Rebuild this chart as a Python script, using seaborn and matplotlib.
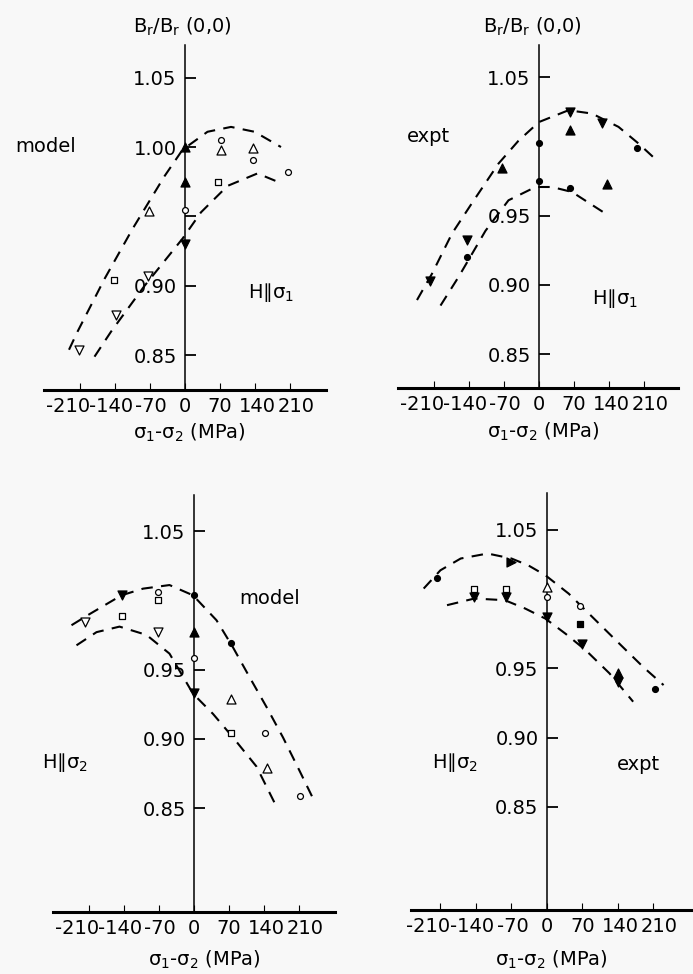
import numpy as np
import pandas as pd
import matplotlib
matplotlib.use("Agg")
import matplotlib.pyplot as plt
import matplotlib.transforms as mtransforms
import seaborn as sns

sns.set_style("ticks")
plt.rcParams['font.family'] = ['DejaVu Sans']
plt.rcParams['mathtext.default'] = 'regular'
for key in ['text.color', 'axes.labelcolor', 'xtick.color', 'ytick.color', 'axes.edgecolor']:
    plt.rcParams[key] = 'black'

# ---------------- axis ticks ----------------
x_ticks = [-210, -140, -70, 0, 70, 140, 210]
x_tick_labels = ["-210", "-140", "-70", "0", "70", "140", "210"]
y_ticks_full = [0.85, 0.90, 0.95, 1.00, 1.05]
y_labels_p1 = ["0.85", "0.90", "", "1.00", "1.05"]
y_ticks_other = [0.85, 0.90, 0.95, 1.05]
y_labels_other = ["0.85", "0.90", "0.95", "1.05"]

# ---------------- panel 1: model, H || sigma1 ----------------
p1_up_x = [-232, -215, -161, -105, -41, -5, 45, 92, 139, 192]
p1_up_y = [0.854, 0.867, 0.905, 0.941, 0.979, 0.998, 1.011, 1.0145, 1.011, 1.000]
p1_lo_x = [-181, -148, -81, -5, 32, 85, 145, 192]
p1_lo_y = [0.849, 0.867, 0.900, 0.934, 0.953, 0.972, 0.981, 0.974]
p1_pt_x = [-212, -138, -74, -142, 66, -72, 72, 136, 72, 136, 206, 0, 0, 0, 0]
p1_pt_y = [0.854, 0.879, 0.907, 0.904, 0.975, 0.954, 0.998, 0.999, 1.005, 0.991, 0.982,
           0.955, 0.975, 1.000, 0.930]
p1_pt_kind = ['v_open', 'v_open', 'v_open', 's_open', 's_open', '^_open', '^_open', '^_open',
              'o_open', 'o_open', 'o_open', 'o_open', '^_fill', '^_fill', 'v_fill']

# ---------------- panel 2: expt, H || sigma1 ----------------
p2_up_x = [-244, -214, -174, -134, -81, -41, 0, 59, 106, 159, 199, 229]
p2_up_y = [0.889, 0.908, 0.937, 0.959, 0.9875, 1.004, 1.0175, 1.026, 1.0236, 1.014, 1.002, 0.992]
p2_lo_x = [-197, -161, -107, -61, -7, 26, 66, 133]
p2_lo_y = [0.885, 0.9056, 0.939, 0.961, 0.9706, 0.9706, 0.967, 0.9514]
p2_pt_x = [-218, -144, -144, -74, 0, 0, 62, 62, 62, 126, 136, 196]
p2_pt_y = [0.903, 0.932, 0.920, 0.984, 1.002, 0.975, 1.0245, 1.0115, 0.970, 1.0166, 0.973, 0.999]
p2_pt_kind = ['v_fill', 'v_fill', 'o_fill', '^_fill', 'o_fill', 'o_fill', 'v_fill', '^_fill',
              'o_fill', 'v_fill', '^_fill', 'o_fill']

# ---------------- panel 3: model, H || sigma2 ----------------
p3_up_x = [-245, -209, -145, -102, -49, -2, 45, 78, 111, 145, 178, 211, 238]
p3_up_y = [0.982, 0.990, 1.0036, 1.0084, 1.011, 1.0036, 0.9856, 0.966, 0.9446, 0.923, 0.901,
           0.877, 0.857]
p3_lo_x = [-235, -195, -149, -95, -49, -2, 38, 78, 125, 165]
p3_lo_y = [0.9675, 0.977, 0.981, 0.975, 0.9615, 0.9326, 0.918, 0.901, 0.880, 0.851]
p3_pt_x = [-219, -145, -145, -73, -73, -73, 0, 0, 0, 0, 73, 73, 73, 141, 145, 211]
p3_pt_y = [0.984, 0.989, 1.0036, 1.006, 1.000, 0.977, 1.0036, 0.977, 0.958, 0.933, 0.969,
           0.929, 0.904, 0.904, 0.879, 0.859]
p3_pt_kind = ['v_open', 's_open', 'v_fill', 'o_open', 's_open', 'v_open', 'o_fill', '^_fill',
              'o_open', 'v_fill', 'o_fill', '^_open', 's_open', 'o_open', '^_open', 'o_open']

# ---------------- panel 4: expt, H || sigma2 ----------------
p4_up_x = [-243, -210, -170, -117, -70, -37, -3, 43, 90, 137, 190, 230]
p4_up_y = [1.0077, 1.0209, 1.0294, 1.033, 1.0294, 1.0245, 1.0173, 1.004, 0.987, 0.970, 0.951, 0.938]
p4_lo_x = [-197, -143, -83, -43, -3, 37, 77, 123, 170]
p4_lo_y = [0.9957, 1.0005, 0.9993, 0.9933, 0.986, 0.975, 0.963, 0.9466, 0.926]
p4_pt_x = [-217, -143, -143, -80, -80, -70, 0, 0, 0, 66, 66, 69, 140, 140, 213]
p4_pt_y = [1.015, 1.0077, 1.0015, 1.0077, 1.0015, 1.0267, 1.0087, 1.0014, 0.987, 0.995, 0.982,
           0.968, 0.947, 0.940, 0.935]
p4_pt_kind = ['o_fill', 's_open', 'v_fill', 's_open', 'v_fill', '>_fill', '^_open', 'o_open',
              'v_fill', 'o_open', 's_fill', 'v_fill', '^_fill', 'v_fill', 'o_fill']

# ---------------- styling ----------------
KIND_STYLE = {
    'v_open': ('v', 'white', 42), 'v_fill': ('v', 'black', 42),
    '^_open': ('^', 'white', 42), '^_fill': ('^', 'black', 42),
    's_open': ('s', 'white', 22), 's_fill': ('s', 'black', 22),
    'o_open': ('o', 'white', 18), 'o_fill': ('o', 'black', 18),
    '>_fill': ('>', 'black', 42),
}
BG = '#f8f8f8'
W, H = 693, 974

fig = plt.figure(figsize=(W / 100, H / 100), dpi=100, facecolor=BG)


def px_axes(left, top, right, bottom):
    return fig.add_axes([left / W, 1 - bottom / H, (right - left) / W, (bottom - top) / H])


def draw_panel(ax, up_x, up_y, lo_x, lo_y, pt_x, pt_y, pt_kind, xlim, ylim, yticks, ylabels):
    for cx, cy in ((up_x, up_y), (lo_x, lo_y)):
        dfc = pd.DataFrame({'x': cx, 'y': cy})
        sns.lineplot(data=dfc, x='x', y='y', sort=False, estimator=None, color='black',
                     linewidth=1.5, linestyle=(0, (5.5, 4)), ax=ax)
    dfp = pd.DataFrame({'x': pt_x, 'y': pt_y, 'kind': pt_kind})
    for kind, grp in dfp.groupby('kind'):
        m, fc, s = KIND_STYLE[kind]
        sns.scatterplot(data=grp, x='x', y='y', marker=m, s=s, color=fc, edgecolor='black',
                        linewidth=0.9, ax=ax, zorder=3, legend=False)
    ax.set_xlim(xlim)
    ax.set_ylim(ylim)
    ax.set_facecolor('none')
    for s in ['top', 'right']:
        ax.spines[s].set_visible(False)
    ax.spines['left'].set_position(('data', 0))
    ax.spines['left'].set_linewidth(1.1)
    ax.spines['bottom'].set_linewidth(2.2)
    ax.set_xticks(x_ticks)
    ax.set_xticklabels(x_tick_labels)
    ax.set_yticks(yticks)
    ax.set_yticklabels(ylabels)
    ax.tick_params(axis='y', direction='in', length=8, width=1.3, pad=6, labelsize=14)
    ax.tick_params(axis='x', direction='in', length=5, width=0.8, pad=5, labelsize=14)
    ax.set_xlabel('')
    ax.set_ylabel('')
    offsets = [-12, -4, 1, 0, 0, 2, 6]
    for lab, dx in zip(ax.get_xticklabels(), offsets):
        lab.set_transform(lab.get_transform() +
                          mtransforms.ScaledTranslation(dx / 100, 0, fig.dpi_scale_trans))


ax1 = px_axes(44, 45, 326, 390)
draw_panel(ax1, p1_up_x, p1_up_y, p1_lo_x, p1_lo_y, p1_pt_x, p1_pt_y, p1_pt_kind,
           (-282, 282), (0.825, 1.0735), y_ticks_full, y_labels_p1)
ax2 = px_axes(398, 45, 678, 388)
draw_panel(ax2, p2_up_x, p2_up_y, p2_lo_x, p2_lo_y, p2_pt_x, p2_pt_y, p2_pt_kind,
           (-282, 278), (0.8255, 1.0731), y_ticks_other, y_labels_other)
ax3 = px_axes(53, 495, 335, 912)
draw_panel(ax3, p3_up_x, p3_up_y, p3_lo_x, p3_lo_y, p3_pt_x, p3_pt_y, p3_pt_kind,
           (-282, 282), (0.775, 1.076), y_ticks_other, y_labels_other)
ax4 = px_axes(411, 493, 693, 910)
draw_panel(ax4, p4_up_x, p4_up_y, p4_lo_x, p4_lo_y, p4_pt_x, p4_pt_y, p4_pt_kind,
           (-268, 288), (0.7756, 1.0767), y_ticks_other, y_labels_other)


def ftext(x, y, s, size=14):
    fig.text(x / W, 1 - y / H, s, ha='center', va='center', fontsize=size, color='black')


ylab = "B$_r$/B$_r$ (0,0)"
xlab = "\u03c3$_1$-\u03c3$_2$ (MPa)"
ftext(182, 27, ylab)
ftext(532, 27, ylab)
ftext(46, 147, "model")
ftext(271, 293, "H\u2225\u03c3$_1$")
ftext(428, 137, "expt")
ftext(615, 298, "H\u2225\u03c3$_1$")
ftext(270, 598, "model")
ftext(65, 762, "H\u2225\u03c3$_2$")
ftext(455, 762, "H\u2225\u03c3$_2$")
ftext(638, 765, "expt")
ftext(189, 433, xlab)
ftext(543, 432, xlab)
ftext(204, 960, xlab)
ftext(551, 960, xlab)

fig.savefig("out.png", dpi=100, facecolor=BG)
